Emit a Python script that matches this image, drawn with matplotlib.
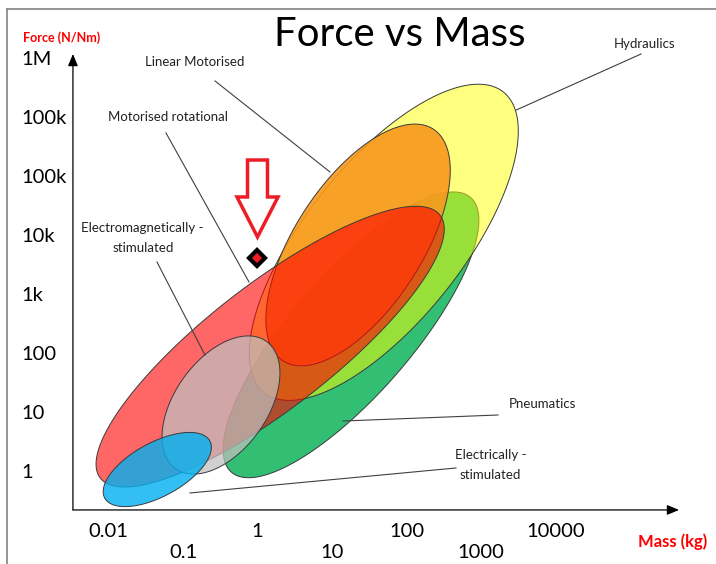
import numpy as np
import matplotlib
matplotlib.use('Agg')
import matplotlib.pyplot as plt
from matplotlib.patches import Polygon, FancyArrow
from matplotlib.lines import Line2D

# actuator technologies, drawn bottom layer first
# ranges are log10(mass in kg) and force decade index (0 = 1 N ... 7 = 1M)
technologies = ['Pneumatics', 'Hydraulics', 'Linear Motorised', 'Motorised rotational',
                'Electromagnetically -\nstimulated', 'Electrically -\nstimulated']
mass_lo = [-0.35, 0.09, 0.34, -2.11, -1.10, -2.05]
mass_hi = [2.86, 3.30, 2.36, 2.45, 0.12, -0.64]
force_lo = [0.00, 1.35, 1.89, -0.10, 0.06, -0.44]
force_hi = [4.66, 6.45, 5.82, 4.36, 2.22, 0.53]
spread = [0.33, 0.41, 0.46, 0.29, 0.59, 0.45]   # minor / major axis

colours = ['#00B050', '#FFFF00', '#F7981D', '#FF0000', '#BFBFBF', '#00B0F0']
alphas = [0.8, 0.5, 0.9, 0.6, 0.72, 0.8]

mass_ticks = ['0.01', '0.1', '1', '10', '100', '1000', '10000']
mass_tick_pos = [-2, -1, 0, 1, 2, 3, 4]
force_ticks = ['1', '10', '100', '1k', '10k', '100k', '100k', '1M']
force_tick_pos = [0, 1, 2, 3, 4, 5, 6, 7]

# the marked design point
marked_mass = 0.0
marked_force = 3.63

plt.rcParams['font.family'] = ['Lato', 'DejaVu Sans']

fig = plt.figure(figsize=(7.16, 5.64), dpi=100)
ax = fig.add_axes([0, 0, 1, 1])
ax.set_xlim(-3.456, 6.154)
ax.set_ylim(-1.558, 8.011)
ax.axis('off')

# outer frame (left and top edges only visible)
fig.add_artist(Line2D([7.5 / 716, 7.5 / 716], [0, 1 - 8.5 / 564], transform=fig.transFigure,
                      color='#8c8c8c', lw=1.3))
fig.add_artist(Line2D([7.5 / 716, 1], [1 - 8.5 / 564, 1 - 8.5 / 564], transform=fig.transFigure,
                      color='#8c8c8c', lw=1.3))

# axes with arrow heads
x0, y0 = -2.477, -0.641
arrow_kw = dict(arrowstyle='-|>,head_length=0.6,head_width=0.25', color='black', lw=0.9,
                mutation_scale=12, shrinkA=0, shrinkB=0)
ax.annotate('', xy=(5.658, y0), xytext=(x0, y0), arrowprops=arrow_kw)
ax.annotate('', xy=(x0, 7.095), xytext=(x0, y0), arrowprops=arrow_kw)


def add_ellipse(lo, hi, ratio, colour, alpha):
    # build the ellipse in screen space so it keeps its look, then map back to data
    p1 = ax.transData.transform(lo)
    p2 = ax.transData.transform(hi)
    c = (p1 + p2) / 2
    d = (p2 - p1) / 2
    nrm = np.array([-d[1], d[0]]) * ratio
    t = np.linspace(0, 2 * np.pi, 300)
    pts = c + np.outer(np.cos(t), d) + np.outer(np.sin(t), nrm)
    pts = ax.transData.inverted().transform(pts)
    fc = matplotlib.colors.to_rgba(colour, alpha)
    ax.add_patch(Polygon(pts, closed=True, fc=fc, ec='#3a3a3a', lw=0.7, zorder=2))


for i in range(len(technologies)):
    add_ellipse((mass_lo[i], force_lo[i]), (mass_hi[i], force_hi[i]), spread[i], colours[i], alphas[i])

# labels with leader lines: text position, line start, line end
label_layout = {
    'Hydraulics': ((5.20, 7.265), (5.148, 7.095), (3.470, 6.143)),
    'Linear Motorised': ((-0.84, 6.96), (-0.570, 6.637), (0.973, 5.093)),
    'Motorised rotational': ((-1.20, 6.03), (-1.228, 5.755), (-0.114, 3.227)),
    'Electromagnetically -\nstimulated': ((-1.54, 3.97), (-1.349, 3.566), (-0.705, 1.988)),
    'Pneumatics': ((3.83, 1.157), (3.228, 0.970), (1.148, 0.868)),
    'Electrically -\nstimulated': ((3.13, 0.12), (2.664, 0.071), (-0.906, -0.353)),
}
for name in technologies:
    (tx, ty), (sx, sy), (ex, ey) = label_layout[name]
    ax.plot([sx, ex], [sy, ey], color='#404040', lw=0.8, zorder=3)
    ax.text(tx, ty, name, ha='center', va='center', fontsize=9.5, color='#222222',
            linespacing=1.75, zorder=4)

# tick labels
for lab, pos in zip(force_ticks, force_tick_pos):
    ax.text(-3.174, pos, lab, ha='left', va='center', fontsize=14.5, color='black')
for k, (lab, pos) in enumerate(zip(mass_ticks, mass_tick_pos)):
    ty = -1.0 if k % 2 == 0 else -1.37
    ax.text(pos, ty, lab, ha='center', va='center', fontsize=14.5, color='black')

# axis titles and chart title
fig.text(62 / 716, 1 - 38 / 564, 'Force (N/Nm)', ha='center', va='center', fontsize=9,
         fontweight='bold', color='#FF0000')
fig.text(673 / 716, 1 - 542 / 564, 'Mass (kg)', ha='center', va='center', fontsize=12,
         fontweight='bold', color='#FF0000')
fig.text(400 / 716, 1 - 35 / 564, 'Force vs Mass', ha='center', va='center', fontsize=29,
         color='black')

# highlighted point with hollow red arrow above it
ax.add_patch(FancyArrow(marked_mass, marked_force + 1.666, 0, -1.306, width=0.268,
                        head_width=0.55, head_length=0.679, length_includes_head=True,
                        fc='white', ec='#EE1C25', lw=2.5, zorder=5))
ax.plot(marked_mass, marked_force, marker='D', ms=8, mfc='#EE1C25', mec='black', mew=3, zorder=6)

fig.savefig('out.png', dpi=100)
